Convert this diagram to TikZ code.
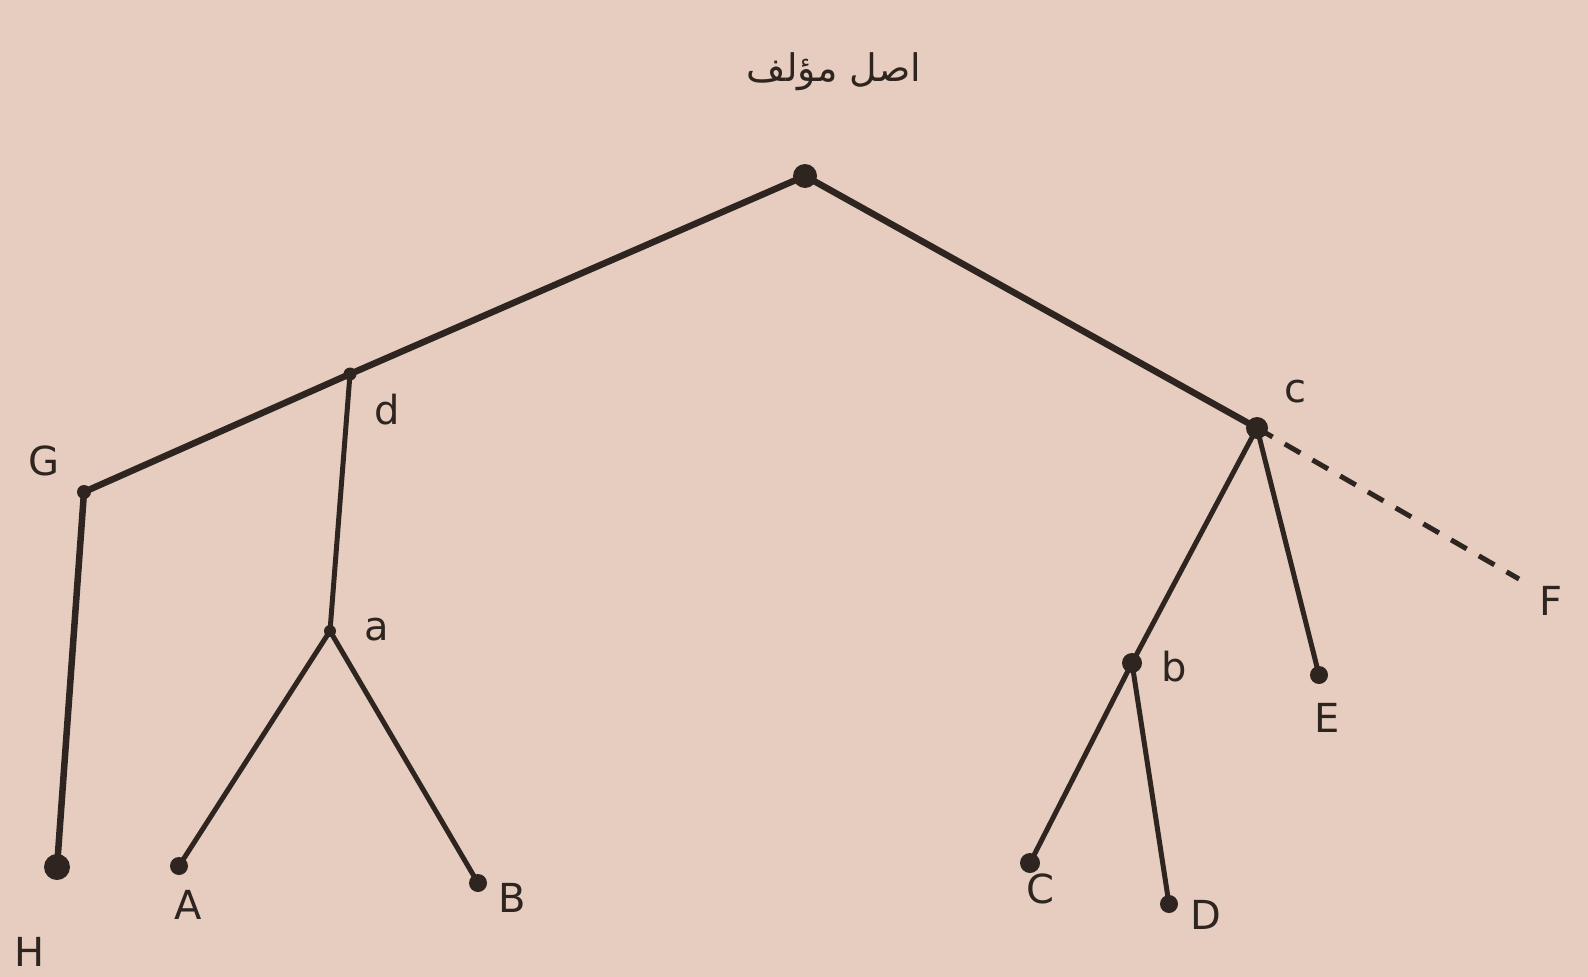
\documentclass[tikz,border=0pt]{standalone}
\usepackage{fontspec}
\setmainfont{DejaVu Sans}
\newfontfamily\arabicfont[Script=Arabic]{DejaVu Sans}
\TeXXeTstate=1
\definecolor{paper}{HTML}{E6CDBF}
\definecolor{ink}{HTML}{2E2420}
\tikzset{
  pt/.style={circle,fill=ink,inner sep=0pt,minimum size=#1},
  pt/.default=13pt,
  lbl/.style={text=ink,font=\fontsize{40}{44}\selectfont,inner sep=0pt},
  thick branch/.style={draw=ink,line width=6.5pt,line cap=round},
  branch/.style={draw=ink,line width=5pt,line cap=round},
  dashbranch/.style={draw=ink,line width=5pt,dash pattern=on 18pt off 14pt}
}
\begin{document}
\begin{tikzpicture}[x=1pt,y=-1pt]
\fill[paper] (0,0) rectangle (1588,977);
\useasboundingbox (0,0) rectangle (1588,977);
% nodes
\node[pt=24pt] (root) at (805,176) {};
\node[pt=13pt] (d) at (350,374) {};
\node[pt=14pt] (G) at (84,492) {};
\node[pt=26pt] (H) at (57,867) {};
\node[pt=12pt] (a) at (330,631) {};
\node[pt=18pt] (A) at (179,866) {};
\node[pt=18pt] (B) at (478,883) {};
\node[pt=22pt] (c) at (1257,428) {};
\coordinate (F) at (1519,579);
\node[pt=18pt] (E) at (1319,675) {};
\node[pt=20pt] (b) at (1132,663) {};
\node[pt=20pt] (C) at (1030,863) {};
\node[pt=18pt] (D) at (1169,904) {};
% edges
\draw[thick branch] (root.center) -- (d.center) -- (G.center) -- (H.center);
\draw[branch] (d.center) -- (a.center);
\draw[branch] (a.center) -- (A.center);
\draw[branch] (a.center) -- (B.center);
\draw[thick branch] (root.center) -- (c.center);
\draw[branch] (c.center) -- (b.center);
\draw[branch] (c.center) -- (E.center);
\draw[branch] (b.center) -- (C.center);
\draw[branch] (b.center) -- (D.center);
\draw[dashbranch] (c.center) -- (F);
% labels
\node[text=ink,font=\arabicfont\fontsize{38}{44}\selectfont] (title) at (834,72) {\beginR اصل مؤلف\endR};
\node[lbl] (ld) at (387,410) {d};
\node[lbl] (lG) at (44,461) {G};
\node[lbl] (lH) at (30,952) {H};
\node[lbl] (la) at (377,630) {a};
\node[lbl] (lA) at (188,905) {A};
\node[lbl] (lB) at (512,898) {B};
\node[lbl] (lc) at (1295,392) {c};
\node[lbl] (lF) at (1551,601) {F};
\node[lbl] (lE) at (1327,718) {E};
\node[lbl] (lb) at (1174,667) {b};
\node[lbl] (lC) at (1040,889) {C};
\node[lbl] (lD) at (1206,915) {D};
\end{tikzpicture}
\end{document}
